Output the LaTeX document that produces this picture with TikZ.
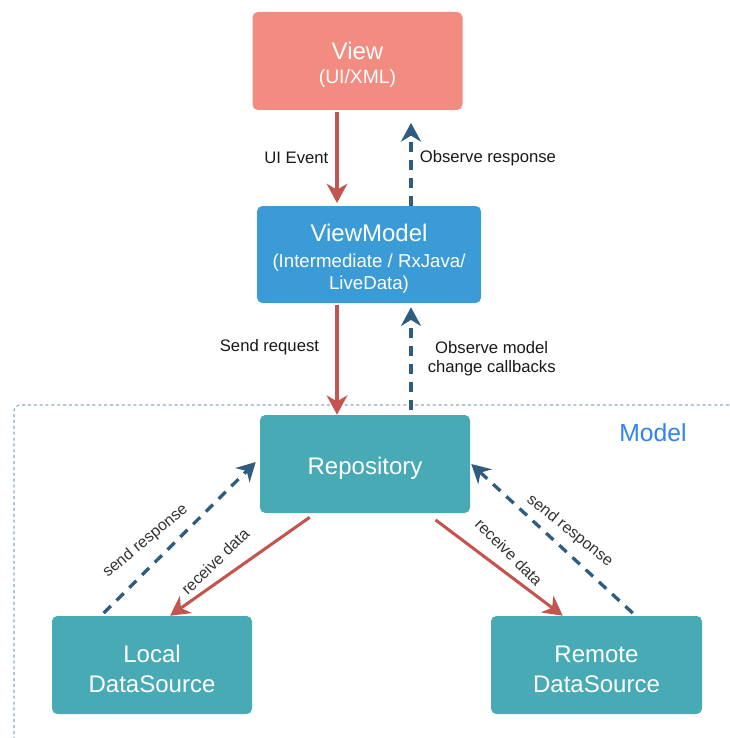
\documentclass[tikz,border=0pt]{standalone}
\usepackage{fontspec}
\setmainfont{Liberation Sans}
\usetikzlibrary{arrows.meta,positioning}
\definecolor{viewred}{HTML}{F28C81}
\definecolor{vmblue}{HTML}{3B9BD7}
\definecolor{repoteal}{HTML}{47AAB4}
\definecolor{reqred}{HTML}{C4544E}
\definecolor{obsblue}{HTML}{2E5D7F}
\definecolor{modelblue}{HTML}{2F82F4}
\definecolor{frameblue}{HTML}{8AA6C8}
\newcommand{\topstrut}{\rule{0pt}{19pt}}
\tikzset{
  box/.style={rounded corners=4pt, text=white, align=center, inner sep=0pt,
    font=\fontsize{18}{22.5}\selectfont},
  req/.style={reqred, line width=2.3pt, -{Stealth[length=14.5pt,width=15.5pt,inset=4.5pt]}},
  obs/.style={obsblue, line width=2.5pt, dash pattern=on 7.5pt off 6pt,
    -{Stealth[length=14pt,width=15pt,inset=4.5pt]}},
  lbl/.style={text=black!90, align=center, font=\fontsize{12.5}{14.5}\selectfont},
  slbl/.style={text=black!80, sloped, font=\fontsize{12}{14}\selectfont},
}
\begin{document}
\begin{tikzpicture}[x=0.75pt, y=-0.75pt]
  \useasboundingbox (0,0) rectangle (729,738);
  % model frame
  \draw[frameblue, line width=0.8pt, dash pattern=on 2.2pt off 2.2pt, rounded corners=4pt]
    (729,405) -| (14,738);
  \node[text=modelblue, font=\fontsize{18.5}{22}\selectfont] (modellabel) at (653,433) {Model};

  % boxes
  \node[box, fill=viewred, minimum width=157.5pt, minimum height=73.5pt] (view) at (357.5,61)
    {\topstrut View\\[-4pt]{\fontsize{14.5}{17}\selectfont (UI/XML)}};
  \node[box, fill=vmblue, minimum width=168pt, minimum height=72.75pt] (vm) at (369,254.5)
    {\topstrut ViewModel\\[-3pt]{\fontsize{14}{16}\selectfont (Intermediate / RxJava/}\\[-6pt]{\fontsize{14}{16}\selectfont LiveData)}};
  \node[box, fill=repoteal, minimum width=157.5pt, minimum height=73.5pt] (repo) at (365,464) {\topstrut Repository};
  \node[box, fill=repoteal, minimum width=150pt, minimum height=73.5pt] (local) at (152,665) {\topstrut Local\\DataSource};
  \node[box, fill=repoteal, minimum width=158.25pt, minimum height=73.5pt] (remote) at (596.5,665) {\topstrut Remote\\DataSource};

  \coordinate (down) at (337,0);
  \coordinate (up) at (411,0);

  % view <-> viewmodel
  \draw[req, shorten <=1.5pt, shorten >=2pt] (view.south -| down) -- (vm.north -| down)
    node[lbl, midway, left=2pt] (uievent) {UI Event};
  \draw[obs, shorten >=9.5pt] (vm.north -| up) -- (view.south -| up)
    node[lbl, midway, right=2pt] (obsresp) {Observe response};

  % viewmodel <-> repository
  \draw[req, shorten <=1.5pt] (vm.south -| down) -- (repo.north -| down)
    node[lbl, pos=0.39, left=9pt] (sendreq) {Send request};
  \draw[obs, shorten <=3.75pt, shorten >=3pt] (repo.north -| up) -- (vm.south -| up)
    node[lbl, midway, right=8pt] (obsmodel) {Observe model\\change callbacks};

  % repository <-> data sources
  \draw[req] ([xshift=37.5pt,yshift=-3pt]repo.south west) -- ([xshift=13.5pt]local.north)
    node[slbl, pos=0.59, above=5pt, rotate=9] (recvleft) {receive data};
  \draw[obs] ([xshift=39pt,yshift=2pt]local.north west) -- ([xshift=-3pt,yshift=1.5pt]repo.west)
    node[slbl, pos=0.37, above=6pt, rotate=-5] (sendleft) {send response};
  \draw[req] ([xshift=-26pt,yshift=-5pt]repo.south east) -- ([xshift=54pt]remote.north west)
    node[slbl, pos=0.48, above=5pt, rotate=-8] (recvright) {receive data};
  \draw[obs] ([xshift=106.5pt,yshift=2pt]remote.north west) -- ([xshift=0.75pt]repo.east)
    node[slbl, pos=0.46, above=3pt, rotate=4] (sendright) {send response};
\end{tikzpicture}
\end{document}
